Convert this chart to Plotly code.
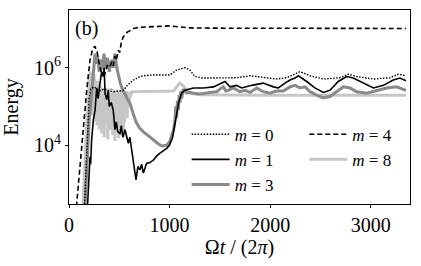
import plotly.graph_objects as go

# ---- data ----
t_m0 = [155, 170, 185, 200, 215, 250, 300, 350, 400, 450, 500, 540, 580, 640, 700, 740, 840, 1004, 1070, 1153, 1203, 1252, 1335, 1501, 1667, 1799, 1931, 2064, 2164, 2230, 2296, 2396, 2528, 2694, 2777, 2860, 3026, 3191, 3274, 3350]
E_m0 = [3.0e2, 3.2e3, 3.2e4, 1.6e5, 2.8e5, 3.2e5, 2.5e5, 2.8e5, 2.5e5, 2.4e5, 2.5e5, 2.6e5, 3.5e5, 4.8e5, 5.8e5, 6.2e5, 6.5e5, 6.5e5, 8.7e5, 1.0e6, 8.7e5, 5.9e5, 5.4e5, 5.5e5, 5.5e5, 6.2e5, 5.5e5, 5.1e5, 5.5e5, 6.5e5, 7.9e5, 6.2e5, 5.1e5, 5.5e5, 6.8e5, 5.9e5, 5.1e5, 5.5e5, 6.8e5, 6.2e5]

t_m1 = [185, 200, 209, 215, 225, 242, 259, 275, 290, 308, 325, 341, 350, 358, 375, 390, 400, 420, 440, 457, 470, 485, 507, 520, 535, 557, 574, 590, 605, 623, 640, 656, 666, 685, 706, 722, 739, 772, 800, 838, 870, 905, 940, 971, 1000, 1030, 1060, 1090, 1120, 1150, 1200, 1236, 1335, 1435, 1551, 1600, 1667, 1717, 1816, 1931, 2031, 2081, 2147, 2197, 2247, 2280, 2363, 2445, 2528, 2594, 2677, 2760, 2826, 2926, 3026, 3125, 3224, 3290, 3350]
E_m1 = [3.0e2, 2.0e3, 5.0e3, 3.2e3, 1.35e4, 4.5e4, 7.9e4, 3.0e5, 1.6e5, 4.0e5, 7.9e5, 5.9e5, 1.0e6, 2.2e5, 1.5e5, 2.5e5, 1.0e5, 1.26e5, 7.9e4, 2.5e4, 4.0e4, 2.2e4, 2.0e4, 3.2e4, 1.6e4, 2.5e4, 1.66e4, 1.12e4, 1.6e4, 7.1e3, 4.0e3, 2.0e3, 1.26e3, 2.8e3, 2.3e3, 3.2e3, 1.9e3, 3.4e3, 3.5e3, 4.1e3, 5.2e3, 6.2e3, 7.2e3, 8.3e3, 1.0e4, 1.6e4, 4.5e4, 1.26e5, 2.2e5, 2.6e5, 2.8e5, 3.0e5, 3.0e5, 3.2e5, 4.4e5, 3.2e5, 3.5e5, 3.0e5, 3.5e5, 4.0e5, 3.2e5, 3.0e5, 4.0e5, 4.8e5, 5.4e5, 6.2e5, 4.4e5, 3.0e5, 2.3e5, 2.6e5, 4.4e5, 5.9e5, 5.4e5, 4.0e5, 3.0e5, 3.5e5, 4.8e5, 5.4e5, 4.6e5]

t_m3 = [160, 180, 200, 225, 242, 258, 270, 285, 300, 315, 330, 348, 365, 380, 400, 420, 440, 457, 475, 490, 510, 530, 560, 590, 606, 640, 666, 700, 739, 800, 838, 880, 921, 971, 1000, 1021, 1040, 1054, 1062, 1070, 1078, 1087, 1095, 1103, 1112, 1120, 1136, 1170, 1200, 1236, 1300, 1400, 1468, 1500, 1534, 1560, 1584, 1634, 1700, 1750, 1800, 1866, 1930, 1998, 2060, 2130, 2197, 2247, 2296, 2346, 2396, 2462, 2528, 2594, 2661, 2727, 2793, 2860, 2959, 3059, 3158, 3257, 3350]
E_m3 = [3.0e2, 4.0e3, 4.0e4, 2.0e5, 6.3e5, 2.3e6, 1.26e6, 2.0e6, 7.9e5, 1.6e6, 8.9e5, 2.3e6, 1.0e6, 1.8e6, 7.9e5, 1.6e6, 1.0e6, 2.3e6, 1.0e6, 6.3e5, 4.0e5, 2.8e5, 2.0e5, 1.4e5, 1.2e5, 6.3e4, 4.0e4, 2.8e4, 2.2e4, 1.66e4, 1.35e4, 1.12e4, 9.5e3, 1.0e4, 1.2e4, 1.66e4, 2.5e4, 4.5e4, 1.0e5, 5.0e4, 1.4e5, 8.0e4, 2.0e5, 1.26e5, 2.5e5, 1.6e5, 2.8e5, 2.2e5, 2.3e5, 2.2e5, 2.1e5, 2.3e5, 2.4e5, 2.8e5, 3.2e5, 2.5e5, 2.6e5, 3.0e5, 2.4e5, 2.6e5, 2.3e5, 3.0e5, 2.4e5, 2.2e5, 2.5e5, 2.5e5, 3.2e5, 3.5e5, 3.0e5, 3.2e5, 2.4e5, 1.95e5, 1.66e5, 1.8e5, 2.4e5, 3.2e5, 3.0e5, 2.4e5, 2.2e5, 2.6e5, 3.0e5, 3.2e5, 2.6e5]

t_m4 = [60, 76, 110, 142, 176, 209, 235, 258, 280, 300, 320, 340, 360, 380, 400, 427, 440, 455, 470, 490, 505, 520, 540, 580, 613, 650, 700, 800, 900, 1000, 1100, 1200, 1400, 1800, 2200, 2600, 3000, 3350]
E_m4 = [1.0e2, 3.0e2, 3.5e3, 2.45e4, 2.6e5, 1.58e6, 3.0e6, 3.6e6, 2.5e6, 1.26e6, 7.9e5, 6.3e5, 7.1e5, 1.12e6, 1.0e6, 1.41e6, 1.12e6, 2.0e6, 1.58e6, 2.8e6, 2.5e6, 4.5e6, 6.3e6, 8.3e6, 9.3e6, 1.05e7, 1.1e7, 1.15e7, 1.17e7, 1.2e7, 1.15e7, 1.07e7, 1.05e7, 1.04e7, 1.05e7, 1.03e7, 1.04e7, 1.03e7]

t_m8 = [140, 160, 180, 195,
        200, 206, 212, 218, 224, 230, 236, 242, 248, 254,
        260, 266, 272, 278, 284, 290, 296, 302, 308, 314,
        320, 326, 332, 338, 344, 350, 356, 362, 368, 374,
        380, 386, 392, 398, 404, 410, 416, 422, 428, 434,
        440, 446, 452, 458, 464, 470, 476, 482, 488, 494,
        500, 506, 512, 518, 524, 530, 536, 542, 548, 554,
        560, 566, 572, 578, 584, 590, 596, 602, 608, 614,
        620,
        640, 800, 1000, 1040, 1070, 1100, 1130, 1160, 1200, 1300, 1600, 2000, 2400, 2800, 3350]
E_m8 = [3.0e2, 6.3e3, 6.3e4, 2.0e5,
        5.0e5, 1.0e5, 7.9e5, 2.0e5, 6.3e5, 6.0e4, 4.0e5, 1.0e5, 7.0e5, 4.0e4,
        5.0e5, 1.6e5, 3.0e5, 3.2e4, 4.5e5, 8.0e4, 2.8e5, 2.5e4, 3.5e5, 1.3e5,
        2.5e5, 2.0e4, 3.0e5, 6.0e4, 2.8e5, 1.6e4, 2.2e5, 1.0e5, 3.0e5, 3.5e4,
        2.5e5, 1.4e4, 2.8e5, 7.0e4, 2.5e5, 2.5e4, 3.0e5, 1.2e5, 2.2e5, 1.8e4,
        2.8e5, 5.0e4, 2.5e5, 1.3e4, 2.0e5, 8.0e4, 2.6e5, 3.0e4, 2.2e5, 1.5e4,
        2.5e5, 6.0e4, 2.0e5, 2.2e4, 2.6e5, 9.0e4, 2.2e5, 1.6e4, 2.4e5, 4.0e4,
        2.0e5, 1.2e5, 2.5e5, 5.0e4, 2.2e5, 1.0e5, 2.4e5, 1.4e5, 2.3e5, 1.8e5,
        2.4e5,
        2.4e5, 2.4e5, 2.4e5, 2.5e5, 3.2e5, 4.0e5, 3.5e5, 2.8e5, 2.2e5, 2.0e5, 1.95e5, 1.95e5, 1.95e5, 1.95e5, 1.95e5]

y_tickvals = [1e4, 1e6]
y_ticktext = ["10<sup>4</sup>", "10<sup>6</sup>"]
x_tickvals = [0, 1000, 2000, 3000]
x_ticktext = ["0", "1000", "2000", "3000"]

FONT = "Liberation Serif"

fig = go.Figure()
fig.add_trace(go.Scatter(x=t_m8, y=E_m8, mode="lines", name="<i>m</i> = 8",
                         line=dict(color="#c6c6c6", width=3), legend="legend2", legendrank=2))
fig.add_trace(go.Scatter(x=t_m3, y=E_m3, mode="lines", name="<i>m</i> = 3",
                         line=dict(color="#8a8a8a", width=3), legend="legend", legendrank=3))
fig.add_trace(go.Scatter(x=t_m1, y=E_m1, mode="lines", name="<i>m</i> = 1",
                         line=dict(color="black", width=1.6), legend="legend", legendrank=2))
fig.add_trace(go.Scatter(x=t_m0, y=E_m0, mode="lines", name="<i>m</i> = 0",
                         line=dict(color="black", width=1.4, dash="1.5px,1.5px"), legend="legend", legendrank=1))
fig.add_trace(go.Scatter(x=t_m4, y=E_m4, mode="lines", name="<i>m</i> = 4",
                         line=dict(color="black", width=1.6, dash="5px,3px"), legend="legend2", legendrank=1))

legend_common = dict(font=dict(family=FONT, size=17, color="black"), bgcolor="rgba(0,0,0,0)",
                     tracegroupgap=0, itemwidth=38, yanchor="top", xanchor="left", traceorder="normal")

fig.update_layout(
    width=421, height=266,
    margin=dict(l=69, r=11, t=10, b=62, autoexpand=False),
    paper_bgcolor="white", plot_bgcolor="white",
    font=dict(family=FONT, size=20, color="black"),
    legend=dict(x=0.345, y=0.45, **legend_common),
    legend2=dict(x=0.69, y=0.45, **legend_common),
    xaxis=dict(range=[0, 3390], tickvals=x_tickvals, ticktext=x_ticktext, automargin=False,
               showgrid=False, zeroline=False, showline=True, linecolor="black", linewidth=1,
               mirror=True, ticks="outside", ticklen=3, tickcolor="black",
               tickfont=dict(family=FONT, size=20),
               title=dict(text="Ω<i>t</i> / (2<i>π</i>)", font=dict(family=FONT, size=20), standoff=2)),
    yaxis=dict(type="log", range=[2.48, 7.49], tickvals=y_tickvals, ticktext=y_ticktext, automargin=False,
               showgrid=False, zeroline=False, showline=True, linecolor="black", linewidth=1,
               mirror=True, ticks="outside", ticklen=3, tickcolor="black",
               tickfont=dict(family=FONT, size=20),
               title=dict(text="Energy", font=dict(family=FONT, size=20), standoff=15)),
    annotations=[dict(text="(b)", xref="paper", yref="paper", x=0.012, y=0.975,
                      xanchor="left", yanchor="top", showarrow=False,
                      font=dict(family=FONT, size=20, color="black"))],
)

fig.write_html("out.html", config={"displayModeBar": False},
               post_script="document.body.style.margin='0';")
